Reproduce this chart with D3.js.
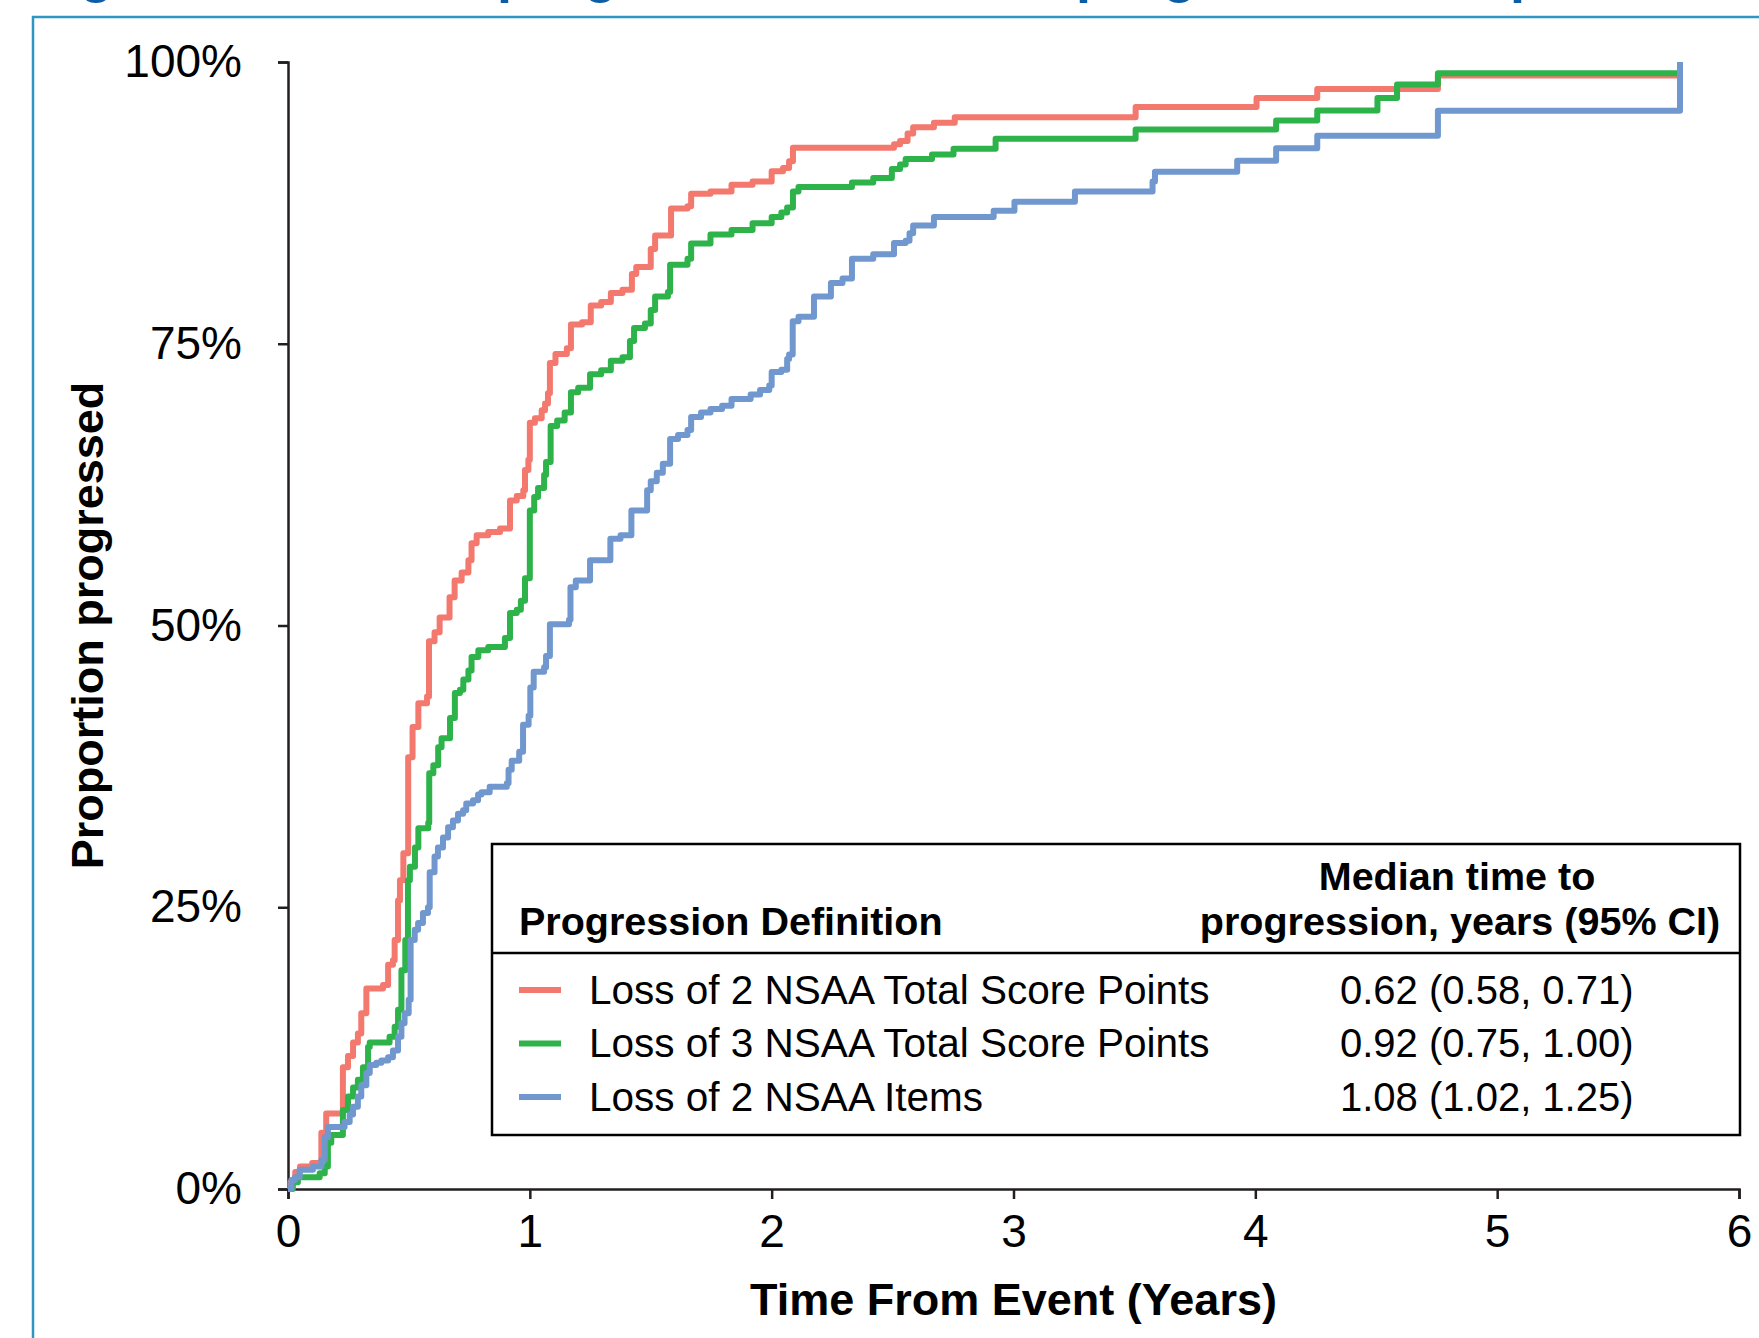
<!DOCTYPE html>
<html>
<head>
<meta charset="utf-8">
<script src="https://cdn.jsdelivr.net/npm/d3@7"></script>
<style>
  body { margin: 0; background: #fff; }
  svg text { font-family: "Liberation Sans", Arial, Helvetica, sans-serif; fill: #000; }
</style>
</head>
<body>
<div id="chart"></div>
<script>
// step points: [years, proportion progressed]
var lossTwoPoints = [[0,0],[0.01,0.006],[0.03,0.015],[0.05,0.02],[0.1,0.023],[0.138,0.05],[0.158,0.067],[0.227,0.108],
    [0.248,0.118],[0.269,0.13],[0.289,0.138],[0.303,0.156],[0.324,0.178],[0.393,0.181],[0.414,0.199],[0.434,0.203],
    [0.441,0.221],[0.455,0.256],[0.463,0.274],[0.477,0.298],[0.497,0.383],[0.515,0.41],[0.539,0.431],[0.575,0.437],
    [0.583,0.486],[0.606,0.494],[0.627,0.507],[0.668,0.525],[0.689,0.54],[0.718,0.547],[0.746,0.558],[0.759,0.573],
    [0.78,0.58],[0.828,0.583],[0.877,0.586],[0.918,0.611],[0.946,0.615],[0.973,0.62],[0.98,0.638],[0.994,0.647],
    [1.0,0.68],[1.021,0.684],[1.049,0.691],[1.063,0.697],[1.075,0.706],[1.083,0.733],[1.106,0.741],[1.153,0.746],
    [1.17,0.767],[1.216,0.769],[1.252,0.784],[1.295,0.787],[1.335,0.795],[1.383,0.798],[1.422,0.812],[1.44,0.818],
    [1.5,0.834],[1.518,0.846],[1.584,0.87],[1.652,0.872],[1.667,0.883],[1.747,0.885],[1.834,0.891],[1.921,0.894],
    [2.0,0.903],[2.047,0.906],[2.072,0.912],[2.088,0.924],[2.506,0.927],[2.531,0.93],[2.562,0.9365],[2.585,0.942],
    [2.671,0.946],[2.757,0.951],[3.505,0.96],[4.005,0.968],[4.256,0.976],[4.755,0.988],[5.756,0.988]];

var lossThreePoints = [[0,0],[0.02,0.006],[0.041,0.0105],[0.131,0.014],[0.152,0.02],[0.165,0.041],[0.179,0.048],
    [0.227,0.07],[0.248,0.082],[0.269,0.09],[0.289,0.097],[0.31,0.108],[0.331,0.126],[0.338,0.13],[0.42,0.135],
    [0.441,0.144],[0.455,0.159],[0.469,0.194],[0.485,0.221],[0.496,0.274],[0.504,0.286],[0.525,0.303],[0.539,0.32],
    [0.58,0.325],[0.584,0.369],[0.601,0.376],[0.621,0.392],[0.635,0.4],[0.67,0.418],[0.69,0.44],[0.711,0.443],
    [0.725,0.452],[0.746,0.46],[0.759,0.472],[0.787,0.478],[0.828,0.481],[0.897,0.489],[0.918,0.511],[0.946,0.514],
    [0.963,0.522],[0.98,0.542],[1.0,0.602],[1.018,0.614],[1.034,0.622],[1.059,0.6335],[1.067,0.645],[1.086,0.677],
    [1.113,0.682],[1.144,0.689],[1.17,0.707],[1.2,0.711],[1.249,0.723],[1.295,0.7265],[1.335,0.735],[1.383,0.738],
    [1.414,0.7525],[1.431,0.764],[1.476,0.768],[1.5,0.78],[1.518,0.792],[1.571,0.796],[1.58,0.82],[1.652,0.8255],
    [1.667,0.839],[1.747,0.847],[1.834,0.851],[1.921,0.857],[2.0,0.8625],[2.04,0.8665],[2.064,0.871],[2.088,0.885],
    [2.111,0.889],[2.332,0.893],[2.42,0.897],[2.497,0.905],[2.531,0.909],[2.554,0.914],[2.663,0.918],[2.752,0.923],
    [2.926,0.932],[3.505,0.94],[4.086,0.948],[4.256,0.957],[4.505,0.968],[4.586,0.98],[4.755,0.99],[5.756,0.99]];

var lossTwoItems = [[0,0],[0.014,0.008],[0.028,0.0105],[0.048,0.017],[0.103,0.02],[0.138,0.026],[0.152,0.046],
    [0.165,0.055],[0.234,0.0595],[0.255,0.066],[0.269,0.073],[0.289,0.082],[0.303,0.092],[0.324,0.103],[0.338,0.11],
    [0.365,0.112],[0.386,0.114],[0.414,0.117],[0.434,0.123],[0.455,0.135],[0.469,0.147],[0.482,0.156],[0.499,0.168],
    [0.507,0.221],[0.524,0.23],[0.538,0.236],[0.558,0.245],[0.579,0.25],[0.586,0.281],[0.606,0.295],[0.62,0.303],
    [0.641,0.312],[0.662,0.321],[0.682,0.327],[0.703,0.333],[0.724,0.336],[0.737,0.342],[0.765,0.345],[0.786,0.35],
    [0.8,0.352],[0.834,0.357],[0.905,0.36],[0.912,0.372],[0.925,0.38],[0.956,0.388],[0.972,0.412],[0.995,0.42],
    [1.002,0.445],[1.016,0.459],[1.059,0.463],[1.067,0.473],[1.083,0.501],[1.162,0.505],[1.168,0.534],[1.19,0.54],
    [1.249,0.558],[1.333,0.577],[1.375,0.58],[1.42,0.602],[1.485,0.62],[1.5,0.628],[1.525,0.6355],[1.55,0.6435],
    [1.58,0.6655],[1.613,0.669],[1.652,0.6735],[1.667,0.685],[1.708,0.689],[1.747,0.692],[1.795,0.695],[1.834,0.701],
    [1.913,0.705],[1.952,0.709],[1.99,0.713],[2.0,0.725],[2.04,0.727],[2.064,0.7365],[2.072,0.7405],[2.087,0.77],
    [2.111,0.774],[2.175,0.792],[2.245,0.804],[2.293,0.808],[2.332,0.8255],[2.42,0.8295],[2.506,0.8395],[2.554,0.8415],
    [2.57,0.848],[2.585,0.855],[2.671,0.8625],[2.918,0.868],[3.004,0.876],[3.254,0.885],[3.575,0.894],[3.585,0.9027],
    [3.925,0.9124],[4.086,0.9234],[4.256,0.9346],[4.755,0.9568],[5.756,0.9568],[5.756,1.0]];

var seriesNames = ["Loss of 2 NSAA Total Score Points", "Loss of 3 NSAA Total Score Points", "Loss of 2 NSAA Items"];
var medianLabels = ["0.62 (0.58, 0.71)", "0.92 (0.75, 1.00)", "1.08 (1.02, 1.25)"];
var seriesColors = ["#f3786e", "#2eb34b", "#7098ce"];
var xTicks = [0, 1, 2, 3, 4, 5, 6];
var yTicks = [0, 0.25, 0.5, 0.75, 1];

var width = 1759, height = 1338;
var svg = d3.select("#chart").append("svg")
    .attr("width", width)
    .attr("height", height)
    .style("display", "block");

svg.append("rect").attr("width", width).attr("height", height).attr("fill", "#fff");

// title strip is cut off at the top of the image, only descenders show
var title = svg.append("text")
    .attr("y", -8)
    .style("font-size", "54px")
    .style("font-weight", "bold")
    .style("fill", "#0b5ea6");
title.append("tspan").attr("x", 32).text("Figure 2. Time to ");
title.append("tspan").attr("x", 497).text("progression based on ");
title.append("tspan").attr("x", 1076).text("progression for ");
title.append("tspan").attr("x", 1510).text("patients");

// frame around the figure panel
svg.append("rect")
    .attr("x", 33).attr("y", 17)
    .attr("width", 1800).attr("height", 1400)
    .attr("fill", "none")
    .attr("stroke", "#2f95c2")
    .attr("stroke-width", 2.5);

var x = d3.scaleLinear().domain([0, 6]).range([288, 1739]);
var y = d3.scaleLinear().domain([0, 1]).range([1189, 62]);

var xAxis = svg.append("g")
    .attr("transform", "translate(0," + y(0) + ")")
    .call(d3.axisBottom(x).tickValues(xTicks).tickFormat(d3.format("d")).tickSizeOuter(0).tickSize(10).tickPadding(15));

var yAxis = svg.append("g")
    .attr("transform", "translate(" + x(0) + ",0)")
    .call(d3.axisLeft(y).tickValues(yTicks).tickFormat(d3.format(".0%")).tickSizeOuter(0).tickSize(10).tickPadding(36));

svg.selectAll(".domain, .tick line")
    .attr("stroke", "#231f20")
    .attr("stroke-width", 2.5);
svg.selectAll(".tick text")
    .style("font-size", "46px")
    .attr("fill", "#000");

svg.append("text")
    .attr("x", (x(0) + x(6)) / 2)
    .attr("y", 1315)
    .attr("text-anchor", "middle")
    .style("font-size", "45px")
    .style("font-weight", "bold")
    .text("Time From Event (Years)");

svg.append("text")
    .attr("transform", "translate(103," + (y(0) + y(1)) / 2 + ") rotate(-90)")
    .attr("text-anchor", "middle")
    .style("font-size", "45px")
    .style("font-weight", "bold")
    .text("Proportion progressed");

var line = d3.line()
    .x(function (d) { return x(d[0]); })
    .y(function (d) { return y(d[1]); })
    .curve(d3.curveStepAfter);

var curves = [lossTwoPoints, lossThreePoints, lossTwoItems];
svg.selectAll(".km")
    .data(curves)
    .enter().append("path")
    .attr("class", "km")
    .attr("d", line)
    .attr("fill", "none")
    .attr("stroke", function (d, i) { return seriesColors[i]; })
    .attr("stroke-width", 6)
    .attr("stroke-linejoin", "round");

// legend table
var legend = svg.append("g");
legend.append("rect")
    .attr("x", 492).attr("y", 844)
    .attr("width", 1248).attr("height", 291)
    .attr("fill", "#fff")
    .attr("stroke", "#000")
    .attr("stroke-width", 2.5);
legend.append("line")
    .attr("x1", 492).attr("x2", 1740)
    .attr("y1", 953).attr("y2", 953)
    .attr("stroke", "#000")
    .attr("stroke-width", 2.5);

legend.append("text")
    .attr("x", 519).attr("y", 935)
    .style("font-size", "39.5px")
    .style("font-weight", "bold")
    .text("Progression Definition");
legend.append("text")
    .attr("x", 1457).attr("y", 890)
    .attr("text-anchor", "middle")
    .style("font-size", "39.5px")
    .style("font-weight", "bold")
    .text("Median time to");
legend.append("text")
    .attr("x", 1460).attr("y", 935)
    .attr("text-anchor", "middle")
    .style("font-size", "39.5px")
    .style("font-weight", "bold")
    .text("progression, years (95% CI)");

var rows = legend.selectAll(".row")
    .data(seriesNames)
    .enter().append("g")
    .attr("class", "row")
    .attr("transform", function (d, i) { return "translate(0," + (990 + i * 53.5) + ")"; });
rows.append("line")
    .attr("x1", 519).attr("x2", 561)
    .attr("stroke", function (d, i) { return seriesColors[i]; })
    .attr("stroke-width", 6);
rows.append("text")
    .attr("x", 589).attr("y", 13.5)
    .style("font-size", "40.5px")
    .text(function (d) { return d; });
rows.append("text")
    .attr("x", 1340).attr("y", 13.5)
    .style("font-size", "40px")
    .text(function (d, i) { return medianLabels[i]; });
</script>
</body>
</html>
